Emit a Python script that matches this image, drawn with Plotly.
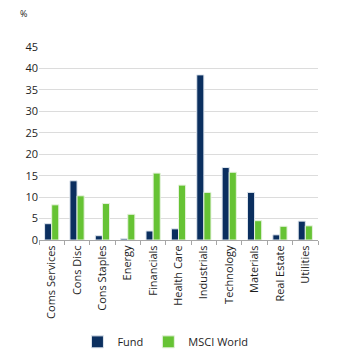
import plotly.graph_objects as go

categories = ["Coms Services", "Cons Disc", "Cons Staples", "Energy", "Financials",
              "Health Care", "Industrials", "Technology", "Materials", "Real Estate", "Utilities"]
fund = [3.8, 13.8, 1.0, 0.3, 2.1, 2.6, 38.5, 16.9, 11.1, 1.2, 4.4]
msci = [8.2, 10.3, 8.5, 6.0, 15.6, 12.8, 11.1, 15.8, 4.5, 3.2, 3.3]
yticks = [0, 5, 10, 15, 20, 25, 30, 35, 40, 45]

fig = go.Figure()
fig.add_trace(go.Bar(x=categories, y=fund, name="Fund", marker=dict(color="#0b2f5f", line=dict(color="#dfe6ee", width=1))))
fig.add_trace(go.Bar(x=categories, y=msci, name="MSCI World", marker=dict(color="#66c334", line=dict(color="#e6f2dd", width=1))))

fig.update_layout(
    width=352, height=361,
    margin=dict(l=39, r=34, t=47, b=121, autoexpand=False),
    paper_bgcolor="white", plot_bgcolor="white",
    font=dict(family="Open Sans", size=11, color="#1e1e1e"),
    barmode="group", bargap=0.44, bargroupgap=0,
    showlegend=True,
    legend=dict(orientation="h", x=0.47, xanchor="center", xref="container",
                y=0.053, yanchor="middle", yref="container",
                font=dict(size=11), itemwidth=30, traceorder="normal"),
    annotations=[dict(text="%", x=-0.075, xref="paper", y=1.175, yref="paper", showarrow=False,
                      yanchor="middle", font=dict(size=9))],
)
fig.update_yaxes(range=[0, 45], tickvals=yticks, showgrid=True, gridcolor="#dcdcdc", gridwidth=1,
                 zeroline=False, showline=False, ticks="", tickfont=dict(size=11), automargin=False)
fig.update_xaxes(tickangle=-90, showline=True, linecolor="#a6a6a6", linewidth=1,
                 ticks="outside", tickson="boundaries", ticklen=4, tickcolor="#a6a6a6",
                 tickfont=dict(size=11), automargin=False)

fig.write_html("out.html")
